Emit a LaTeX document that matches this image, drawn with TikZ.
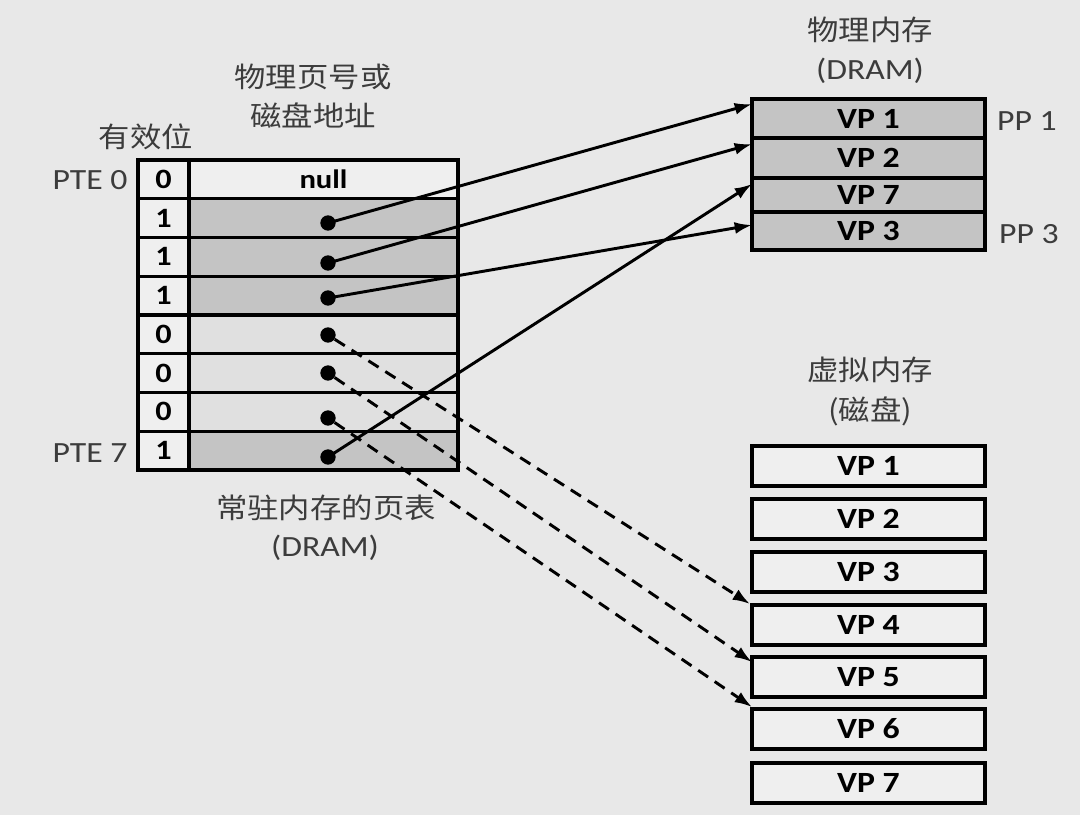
\documentclass[tikz,border=0pt]{standalone}
\usepackage{fontspec}
\setmainfont{Carlito}[FakeStretch=1.15]
\newfontfamily\cjk{Noto Sans CJK SC}[FakeStretch=1.12]
\usetikzlibrary{arrows.meta,calc}
\definecolor{bgc}{HTML}{E8E8E8}
\definecolor{dark}{HTML}{C4C4C4}
\definecolor{mid}{HTML}{E0E0E0}
\definecolor{lite}{HTML}{EFEFEF}
\definecolor{txt}{HTML}{3C3C3C}
\begin{document}
\begin{tikzpicture}[x=0.75pt,y=-0.75pt,
 cell/.style={draw=black, line width=2.4pt, anchor=north west, inner sep=0pt, outer sep=0pt, minimum height=29.06pt},
 vcell/.style={cell, minimum width=38.25pt, fill=lite, font=\fontsize{21}{24}\selectfont\bfseries},
 ccell/.style={cell, minimum width=201.75pt},
 pmcell/.style={draw=black, line width=2.4pt, anchor=north west, inner sep=0pt, outer sep=0pt, minimum width=174.75pt, fill=dark, font=\fontsize{22}{24}\selectfont\bfseries},
 dkbox/.style={pmcell, fill=lite, minimum height=30pt},
 dot/.style={circle, fill=black, inner sep=0pt, minimum size=11.5pt},
 lbl/.style={text=txt, font=\cjk\fontsize{21}{24}\selectfont},
 side/.style={text=txt, font=\fontsize{22}{24}\selectfont},
 conn/.style={line width=2.2pt, -{Latex[length=13pt,width=9pt]}},
 dconn/.style={conn, dash pattern=on 9pt off 6pt}
]
\fill[bgc] (0,0) rectangle (1080,815);
\useasboundingbox (0,0) rectangle (1080,815);

% page table
\foreach \i/\v/\f in {0/0/lite,1/1/dark,2/1/dark,3/1/dark,4/0/mid,5/0/mid,6/0/mid,7/1/dark}{
  \node[vcell] (v\i) at (138,{160+\i*38.75}) {\v};
  \node[ccell, fill=\f] (c\i) at (189,{160+\i*38.75}) {};
}
\node[font=\fontsize{20}{22}\selectfont\bfseries] (nul) at (c0.center) {null};

% dots
\node[dot] (d1) at (328,223) {};
\node[dot] (d2) at (328,263) {};
\node[dot] (d3) at (328,298) {};
\node[dot] (d4) at (328,335) {};
\node[dot] (d5) at (328,373) {};
\node[dot] (d6) at (328,418) {};
\node[dot] (d7) at (328,457) {};

% physical memory
\node[pmcell, minimum height=29.25pt] (pm1) at (752,99) {VP 1};
\node[pmcell, minimum height=30pt] (pm2) at (752,138) {VP 2};
\node[pmcell, minimum height=25.5pt] (pm3) at (752,178) {VP 7};
\node[pmcell, minimum height=28.5pt] (pm4) at (752,212) {VP 3};

% disk
\foreach \j/\t in {1/446,2/499,3/552,4/605,5/657,6/709,7/763}{
  \node[dkbox] (dk\j) at (752,\t) {VP \j};
}

% labels
\node[lbl] (pmt) at (870,30) {物理内存};
\node[side] (pmd) at (870,71) {(DRAM)};
\node[side] (pp1) at (1027,121) {PP 1};
\node[side] (pp3) at (1029,234) {PP 3};
\node[lbl] (vmt) at (870,370) {虚拟内存};
\node[lbl] (vmd) at (870,411) {(磁盘)};
\node[lbl] (vb) at (146,137) {有效位};
\node[lbl] (pa1) at (313,77) {物理页号或};
\node[lbl] (pa2) at (313,115) {磁盘地址};
\node[side] (pte0) at (90,180) {PTE 0};
\node[side] (pte7) at (90,453) {PTE 7};
\node[lbl] (ptt) at (326,508) {常驻内存的页表};
\node[side] (ptd) at (325,548) {(DRAM)};

% targets
\coordinate (t1) at ($(pm1.north west)+(0,5)$);
\coordinate (t2) at ($(pm2.north west)+(0,6)$);
\coordinate (t7) at ($(pm3.north west)+(0,6)$);
\coordinate (t3) at ($(pm4.north west)+(0,13)$);
\coordinate (t4) at ($(dk4.north west)+(-2,-1)$);
\coordinate (t5) at ($(dk5.north west)+(0,5)$);
\coordinate (t6) at ($(dk6.north west)+(0,-2)$);

\draw[conn] (d1.center) -- (t1);
\draw[conn] (d2.center) -- (t2);
\draw[conn] (d3.center) -- (t3);
\draw[conn] (d7.center) -- (t7);
\draw[dconn] (d4) -- (t4);
\draw[dconn] (d5) -- (t5);
\draw[dconn] (d6) -- (t6);
\end{tikzpicture}
\end{document}
